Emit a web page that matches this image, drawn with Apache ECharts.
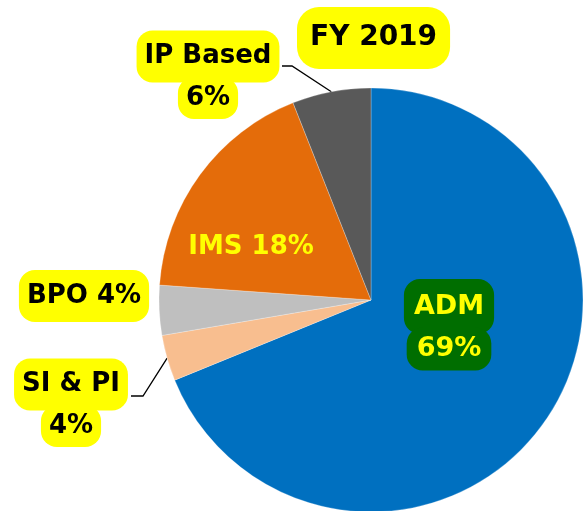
<!DOCTYPE html>
<html>
<head>
<meta charset="utf-8">
<script src="https://cdn.jsdelivr.net/npm/echarts@6/dist/echarts.min.js"></script>
<style>
  html, body { margin: 0; padding: 0; background: #fff; }
  #chart { width: 583px; height: 511px; }
</style>
</head>
<body>
<div id="chart"></div>
<script>
// 数据
const categories = ['ADM', 'SI & PI', 'BPO', 'IMS', 'IP Based'];
const values = [68.9, 3.5, 3.8, 17.9, 6.0];
const pctLabels = ['69%', '4%', '4%', '18%', '6%'];
const colors = ['#0070C0', '#F8BE8F', '#BFBFBF', '#E46C0A', '#595959'];
const chartTitle = 'FY 2019';

const FONT = 'DejaVu Sans';

const myChart = echarts.init(document.getElementById('chart'));

// 标签摆放位置 (label boxes)
const labelPos = {
  0: { x: 449, y: 325 },
  1: { x: 71, y: 403 },
  2: { x: 84, y: 296 },
  3: { x: 251, y: 247 },
  4: { x: 208, y: 75 }
};

const baseBox = {
  fontFamily: FONT, fontWeight: 'bold', fontSize: 26, color: '#000',
  backgroundColor: '#ffff00', borderRadius: 16
};
// 上一行 / 下一行 背景块
const topLine = Object.assign({}, baseBox, { padding: [13, 8], lineHeight: 46 });
const botLine = Object.assign({}, baseBox, { padding: [8, 8], lineHeight: 37 });
const greenStyle = { fontSize: 27, color: '#ffff00', backgroundColor: '#006e00' };

const option = {
  title: {
    text: chartTitle,
    left: 297,
    top: 7,
    backgroundColor: '#ffff00',
    borderRadius: 22,
    padding: [17, 13],
    textStyle: { fontFamily: FONT, fontWeight: 'bold', fontSize: 28, color: '#000' }
  },
  series: [{
    type: 'pie',
    center: [371, 300],
    radius: 212,
    startAngle: 90,
    clockwise: true,
    silent: true,
    itemStyle: { borderColor: 'rgba(255,255,255,0.5)', borderWidth: 0.5 },
    data: categories.map((name, i) => {
      const item = { name, value: values[i], itemStyle: { color: colors[i] } };
      if (name === 'ADM') {
        item.label = {
          position: 'inside',
          formatter: '{g1|' + name + '}\n{g2|' + pctLabels[i] + '}',
          rich: {
            g1: Object.assign({}, topLine, greenStyle, { padding: [14, 10], lineHeight: 48 }),
            g2: Object.assign({}, botLine, greenStyle, { padding: [8, 10] })
          }
        };
      } else if (name === 'IMS') {
        item.label = {
          position: 'inside',
          formatter: name + ' ' + pctLabels[i],
          color: '#ffff00', fontFamily: FONT, fontWeight: 'bold', fontSize: 26
        };
      } else if (name === 'BPO') {
        item.label = { formatter: '{a1|' + name + ' ' + pctLabels[i] + '}' };
      } else {
        item.label = { formatter: '{a1|' + name + '}\n{a2|' + pctLabels[i] + '}' };
        item.labelLine = { show: true };
      }
      return item;
    }),
    label: {
      show: true,
      position: 'outside',
      overflow: 'none',
      rich: { a1: topLine, a2: botLine }
    },
    labelLine: { show: false, lineStyle: { color: '#000', width: 1.3 } },
    labelLayout: function (params) {
      const p = labelPos[params.dataIndex];
      const res = { x: p.x, y: p.y, align: 'center', verticalAlign: 'middle' };
      const start = params.labelLinePoints && params.labelLinePoints[0];
      if (params.dataIndex === 4 && start) {
        res.labelLinePoints = [start, [292, 66], [282, 66]];
      }
      if (params.dataIndex === 1 && start) {
        res.labelLinePoints = [start, [143, 396], [131, 396]];
      }
      return res;
    }
  }]
};

myChart.setOption(option);

window.addEventListener('resize', () => {
  myChart.resize();
});
</script>
</body>
</html>
